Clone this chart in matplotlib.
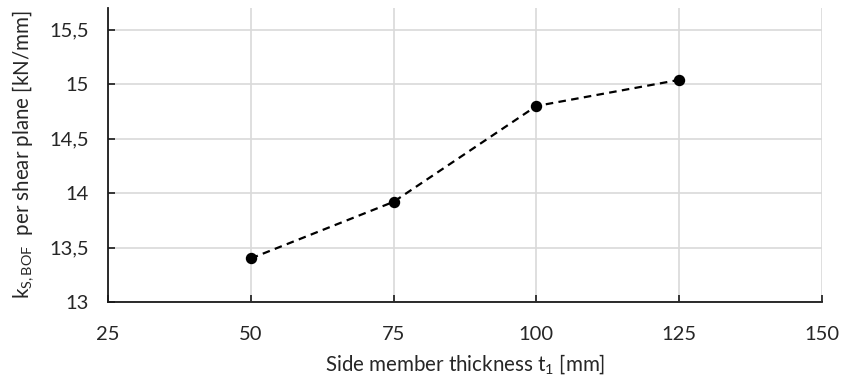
import matplotlib
matplotlib.use("Agg")
import matplotlib.pyplot as plt
from matplotlib.ticker import FuncFormatter

plt.rcParams['font.family'] = ['Lato', 'DejaVu Sans']
plt.rcParams['mathtext.fontset'] = 'custom'
plt.rcParams['mathtext.rm'] = 'Lato'
plt.rcParams['mathtext.it'] = 'Lato:italic'

thickness = [50, 75, 100, 125]
stiffness = [13.40, 13.92, 14.80, 15.04]
x_ticks = [25, 50, 75, 100, 125, 150]
y_ticks = [13, 13.5, 14, 14.5, 15, 15.5]

fig = plt.figure(figsize=(8.42, 3.81), dpi=100)
ax = fig.add_axes([108 / 842, 1 - 302 / 381, (822 - 108) / 842, (302 - 8) / 381])

ax.plot(thickness, stiffness, color='black', lw=1.6, dashes=[3.4, 2.4],
        marker='o', markersize=7.2, zorder=3)

ax.set_xlim(25, 150)
ax.set_ylim(13, 15.7)
ax.set_xticks(x_ticks)
ax.set_yticks(y_ticks)
ax.yaxis.set_major_formatter(FuncFormatter(lambda v, p: f"{v:g}".replace('.', ',')))

ax.grid(True, color='#d9d9d9', lw=1.2, zorder=0)
for side in ('top', 'right'):
    ax.spines[side].set_visible(False)
for side in ('left', 'bottom'):
    ax.spines[side].set_color('#1a1a1a')
    ax.spines[side].set_linewidth(1.3)

ax.tick_params(axis='both', direction='in', length=5, width=1.2, color='#1a1a1a',
               labelsize=14.5, labelcolor='#262626')
ax.tick_params(axis='x', pad=17)
ax.tick_params(axis='y', pad=14)

ax.set_xlabel(r"Side member thickness $\mathregular{t_1}$ [mm]", fontsize=14.8,
              color='#262626', labelpad=7)
ax.set_ylabel(r"$\mathregular{k_{S,BOF}}$  per shear plane [kN/mm]", fontsize=14.8,
              color='#262626', labelpad=9)

fig.savefig("out.png", dpi=100)
